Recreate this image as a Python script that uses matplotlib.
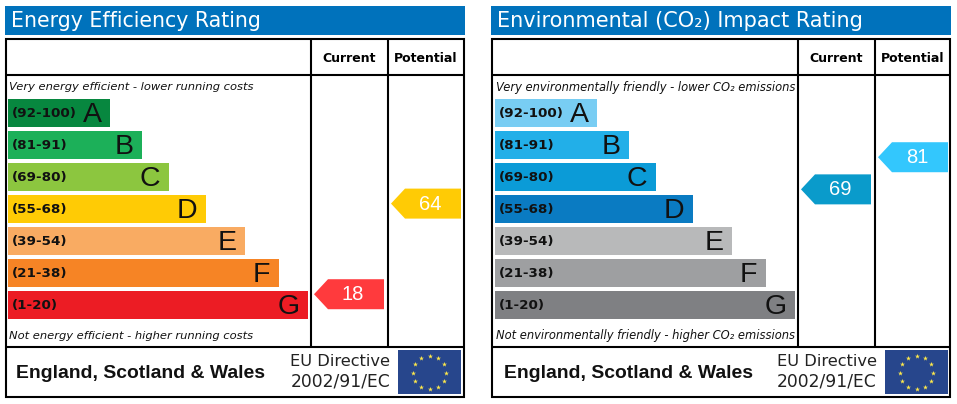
import numpy as np
import matplotlib
matplotlib.use("Agg")
import matplotlib.pyplot as plt
from matplotlib.patches import Rectangle, Polygon

# ---- data ----
bands = ["(92-100)", "(81-91)", "(69-80)", "(55-68)", "(39-54)", "(21-38)", "(1-20)"]
band_hi = [100, 91, 80, 68, 54, 38, 20]
band_lo = [92, 81, 69, 55, 39, 21, 1]
letters = ["A", "B", "C", "D", "E", "F", "G"]
bar_lengths = [102, 134, 161, 198, 237, 271, 300]

energy_title = "Energy Efficiency Rating"
energy_top = "Very energy efficient - lower running costs"
energy_bottom = "Not energy efficient - higher running costs"
energy_colors = ["#07873f", "#1cb059", "#8cc63f", "#ffcb05", "#f9ab62", "#f68425", "#ec1c24"]
energy_current = 18
energy_potential = 64
energy_current_color = "#ff3a3d"
energy_potential_color = "#ffcb05"

env_title = "Environmental (CO\u2082) Impact Rating"
env_top = "Very environmentally friendly - lower CO\u2082 emissions"
env_bottom = "Not environmentally friendly - higher CO\u2082 emissions"
env_colors = ["#78cdf3", "#22afe8", "#0b9bd7", "#0a7bc2", "#b8b9ba", "#9e9fa1", "#7f8083"]
env_current = 69
env_potential = 81
env_current_color = "#0a9bcb"
env_potential_color = "#33c7fd"

region = "England, Scotland & Wales"
directive = ["EU Directive", "2002/91/EC"]
col_heads = ["Current", "Potential"]

# ---- layout ----
fig = plt.figure(figsize=(9.57, 4.04), dpi=100)
ax = fig.add_axes([0, 0, 1, 1])
ax.set_xlim(0, 957)
ax.set_ylim(404, 0)
ax.axis("off")

SANS = "Liberation Sans"
VERD = "DejaVu Sans"
ROW0, STEP, ROWH = 99, 32, 28


def score_to_y(score):
    for i, (hi, lo) in enumerate(zip(band_hi, band_lo)):
        if lo <= score <= hi:
            return ROW0 + STEP * i + ROWH * (hi - score + 0.3) / (hi - lo + 1)
    raise ValueError(score)


def arrow(x, score, color):
    y = score_to_y(score)
    ax.add_patch(Polygon([(x, y), (x + 14, y - 15), (x + 70, y - 15), (x + 70, y + 15), (x + 14, y + 15)],
                         closed=True, fc=color, ec="none", zorder=3))
    ax.text(x + 39, y + 0.5, str(score), color="white", family=SANS, fontsize=14.5,
            ha="center", va="center", zorder=4)


def panel(dx, title, top, bottom, colors, cur, pot, cur_c, pot_c, region_dx, title_fs, note_fs):
    bx = dx + (1 if dx else 0)
    ax.add_patch(Rectangle((5 + dx, 6), 460, 29, fc="#0072bc", ec="none"))
    ax.text(11 + dx, 21, title, color="white", family=VERD, fontsize=title_fs, va="center", ha="left")
    # frame
    lw = 1.5
    ax.add_patch(Rectangle((6 + dx, 39), 458, 358, ec="black", lw=lw, zorder=2.5, fill=False))
    for y in (75, 346.5):
        ax.plot([5 + dx, 464 + dx], [y, y], color="black", lw=lw, solid_capstyle="butt", zorder=2.5)
    for x in (311, 388):
        ax.plot([x + bx, x + bx], [39, 346], color="black", lw=lw, solid_capstyle="butt", zorder=2.5)
    for name, xc in zip(col_heads, (349.5, 426)):
        ax.text(xc + bx, 58.5, name, family=VERD, weight="bold", fontsize=9.0, ha="center", va="center")
    ax.text(9 + bx, 87, top, family=VERD, style="italic", fontsize=note_fs, va="center", ha="left", color="#111111")
    ax.text(9 + bx, 336, bottom, family=VERD, style="italic", fontsize=note_fs, va="center", ha="left", color="#111111")
    # bars
    for i, (lab, let, w, c) in enumerate(zip(bands, letters, bar_lengths, colors)):
        y = ROW0 + STEP * i
        ax.barh(y + ROWH / 2, w, height=ROWH, left=8 + bx, color=c, zorder=2)
        ax.text(12 + bx, y + ROWH / 2 + 0.5, lab, family=VERD, weight="bold", fontsize=9.7,
                va="center", ha="left", color="#111111", zorder=3)
        ax.text(8 + bx + w - 8.5, y + ROWH / 2 + 1.5, let, family=SANS, fontsize=20.5,
                va="center", ha="right", color="#111111", zorder=3)
    arrow(314 + bx, cur, cur_c)
    arrow(391 + bx, pot, pot_c)
    # footer
    ax.text(16 + dx + region_dx, 373.5, region, family=SANS, weight="bold", fontsize=13.95, va="center", ha="left", color="#111111")
    ax.text(390 + bx, 362, directive[0], family=VERD, fontsize=11.7, va="center", ha="right", color="#222222")
    ax.text(390 + bx, 382, directive[1], family=VERD, fontsize=12.3, va="center", ha="right", color="#222222")
    # flag
    ax.add_patch(Rectangle((398 + bx, 350), 63, 44, fc="#27468c", ec="none", zorder=2))
    th = np.deg2rad(np.arange(0, 360, 30))
    ax.scatter(429.5 + bx + 16.3 * np.cos(th), 372.5 + 16.3 * np.sin(th), marker="*", s=14,
               c="#ffe94a", linewidths=0, zorder=3)


panel(0, energy_title, energy_top, energy_bottom, energy_colors, energy_current, energy_potential,
      energy_current_color, energy_potential_color, 0, 14.8, 8.27)
panel(486, env_title, env_top, env_bottom, env_colors, env_current, env_potential,
      env_current_color, env_potential_color, 2.5, 15.0, 8.3)

fig.savefig("out.png", dpi=100)
